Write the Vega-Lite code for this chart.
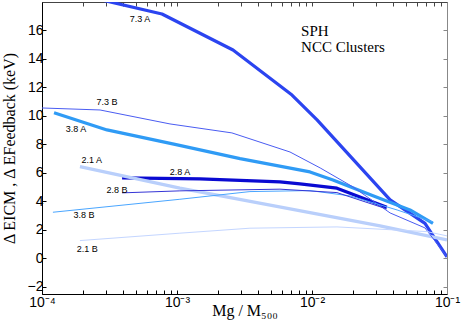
{
  "$schema": "https://vega.github.io/schema/vega-lite/v6.json",
  "width": 405,
  "height": 292,
  "autosize": "none",
  "padding": {"left": 42, "top": 2, "right": 16, "bottom": 34},
  "config": {
    "view": {"stroke": "#888"},
    "axis": {
      "grid": false,
      "labelFont": "Liberation Sans",
      "labelFontSize": 14,
      "labelColor": "#000",
      "titleFont": "Liberation Serif",
      "titleFontSize": 16,
      "titleFontWeight": "normal",
      "titleColor": "#000"
    }
  },
  "datasets": {
    "curves": [
      {"s": "7.3 A", "x": 0.00025, "y": 18.24},
      {"s": "7.3 A", "x": 0.000774, "y": 17.16},
      {"s": "7.3 A", "x": 0.0026, "y": 14.63},
      {"s": "7.3 A", "x": 0.00711, "y": 11.47},
      {"s": "7.3 A", "x": 0.0109, "y": 9.72},
      {"s": "7.3 A", "x": 0.0379, "y": 4.11},
      {"s": "7.3 A", "x": 0.0687, "y": 2.46},
      {"s": "7.3 A", "x": 0.1, "y": 0.1},
      {"s": "7.3 B", "x": 0.0001, "y": 10.56},
      {"s": "7.3 B", "x": 0.000269, "y": 10.42},
      {"s": "7.3 B", "x": 0.000887, "y": 9.44},
      {"s": "7.3 B", "x": 0.00255, "y": 8.81},
      {"s": "7.3 B", "x": 0.00687, "y": 7.47},
      {"s": "7.3 B", "x": 0.0115, "y": 6.35},
      {"s": "7.3 B", "x": 0.0201, "y": 5.02},
      {"s": "7.3 B", "x": 0.0379, "y": 3.19},
      {"s": "7.3 B", "x": 0.0687, "y": 2.14},
      {"s": "7.3 B", "x": 0.1, "y": 0.1},
      {"s": "3.8 A", "x": 0.0001228, "y": 10.23},
      {"s": "3.8 A", "x": 0.000303, "y": 9.02},
      {"s": "3.8 A", "x": 0.000966, "y": 8.0},
      {"s": "3.8 A", "x": 0.00293, "y": 7.0},
      {"s": "3.8 A", "x": 0.00966, "y": 6.07},
      {"s": "3.8 A", "x": 0.0143, "y": 5.51},
      {"s": "3.8 A", "x": 0.0283, "y": 4.39},
      {"s": "3.8 A", "x": 0.0532, "y": 3.4},
      {"s": "3.8 A", "x": 0.0787, "y": 2.45},
      {"s": "3.8 B", "x": 0.0001205, "y": 3.24},
      {"s": "3.8 B", "x": 0.00105, "y": 4.15},
      {"s": "3.8 B", "x": 0.00347, "y": 4.69},
      {"s": "3.8 B", "x": 0.00966, "y": 4.76},
      {"s": "3.8 B", "x": 0.0191, "y": 4.39},
      {"s": "3.8 B", "x": 0.0427, "y": 3.4},
      {"s": "3.8 B", "x": 0.0787, "y": 2.56},
      {"s": "2.8 A", "x": 0.000392, "y": 5.65},
      {"s": "2.8 A", "x": 0.00148, "y": 5.58},
      {"s": "2.8 A", "x": 0.00579, "y": 5.37},
      {"s": "2.8 A", "x": 0.00815, "y": 5.23},
      {"s": "2.8 A", "x": 0.0153, "y": 4.93},
      {"s": "2.8 A", "x": 0.0358, "y": 3.59},
      {"s": "2.8 B", "x": 0.000392, "y": 4.6},
      {"s": "2.8 B", "x": 0.00105, "y": 4.74},
      {"s": "2.8 B", "x": 0.00579, "y": 4.86},
      {"s": "2.8 B", "x": 0.0153, "y": 4.62},
      {"s": "2.8 B", "x": 0.0358, "y": 3.47},
      {"s": "2.1 A", "x": 0.000191, "y": 6.44},
      {"s": "2.1 A", "x": 0.00105, "y": 4.93},
      {"s": "2.1 A", "x": 0.00966, "y": 3.21},
      {"s": "2.1 A", "x": 0.0319, "y": 2.28},
      {"s": "2.1 A", "x": 0.1, "y": 1.3},
      {"s": "2.1 B", "x": 0.000191, "y": 1.25},
      {"s": "2.1 B", "x": 0.00105, "y": 1.77},
      {"s": "2.1 B", "x": 0.00347, "y": 2.12},
      {"s": "2.1 B", "x": 0.0153, "y": 2.21},
      {"s": "2.1 B", "x": 0.0711, "y": 1.88},
      {"s": "2.1 B", "x": 0.1, "y": 1.58}
    ],
    "labels": [
      {"t": "7.3 A", "x": 0.000532, "y": 16.81},
      {"t": "7.3 B", "x": 0.000303, "y": 10.98},
      {"t": "3.8 A", "x": 0.0001785, "y": 9.09},
      {"t": "2.1 A", "x": 0.000234, "y": 6.91},
      {"t": "2.8 A", "x": 0.001052, "y": 6.07},
      {"t": "2.8 B", "x": 0.000359, "y": 4.81},
      {"t": "3.8 B", "x": 0.000205, "y": 3.05},
      {"t": "2.1 B", "x": 0.000216, "y": 0.67}
    ],
    "notes": [
      {"t": "SPH", "x": 0.0083, "y": 15.96},
      {"t": "NCC Clusters", "x": 0.0083, "y": 14.84}
    ]
  },
  "layer": [
    {
      "data": {"name": "curves"},
      "transform": [{"filter": "indexof(datum.s, 'A') >= 0"}],
      "mark": {"type": "line", "clip": true, "strokeJoin": "round", "strokeWidth": 3.2},
      "encoding": {
        "x": {
          "field": "x",
          "type": "quantitative",
          "scale": {"type": "log", "domain": [0.0001, 0.1], "nice": false},
          "axis": {
            "orient": "bottom",
            "values": [0.0001, 0.0002, 0.0003, 0.0004, 0.0005, 0.0006, 0.0007, 0.0008, 0.0009, 0.001, 0.002, 0.003, 0.004, 0.005, 0.006, 0.007, 0.008, 0.009, 0.01, 0.02, 0.03, 0.04, 0.05, 0.06, 0.07, 0.08, 0.09, 0.1],
            "labelExpr": "datum.value == 0.0001 ? '10⁻⁴' : datum.value == 0.001 ? '10⁻³' : datum.value == 0.01 ? '10⁻²' : datum.value == 0.1 ? '10⁻¹' : ''",
            "labelOverlap": false,
            "labelFlush": false,
            "tickSize": -4,
            "tickColor": "#000",
            "domainColor": "#000",
            "labelPadding": 5,
            "title": "Mg / M₅₀₀",
            "titleY": 21,
            "titleBaseline": "alphabetic"
          }
        },
        "y": {
          "field": "y",
          "type": "quantitative",
          "scale": {"domain": [-2.5, 18], "nice": false, "zero": false},
          "axis": {
            "orient": "left",
            "values": [-2, 0, 2, 4, 6, 8, 10, 12, 14, 16],
            "tickSize": -4,
            "tickColor": "#000",
            "domainColor": "#000",
            "labelPadding": 3,
            "title": "Δ EICM  ,  Δ EFeedback  (keV)",
            "titleX": -33,
            "titleY": 146,
            "titleBaseline": "middle"
          }
        },
        "color": {
          "field": "s",
          "type": "nominal",
          "scale": {
            "domain": ["2.1 B", "3.8 B", "2.8 B", "7.3 B", "2.1 A", "3.8 A", "2.8 A", "7.3 A"],
            "range": ["#c4d6ff", "#4aa6ff", "#3535d6", "#4a5cf2", "#b9cffb", "#2f9bf5", "#0a0ad2", "#2b44f0"]
          },
          "legend": null
        }
      }
    },
    {
      "data": {"name": "curves"},
      "transform": [{"filter": "indexof(datum.s, 'B') >= 0"}],
      "mark": {"type": "line", "clip": true, "strokeJoin": "round", "strokeWidth": 1},
      "encoding": {
        "x": {"field": "x", "type": "quantitative", "axis": null},
        "y": {"field": "y", "type": "quantitative", "axis": null},
        "color": {"field": "s", "type": "nominal", "legend": null}
      }
    },
    {
      "data": {"name": "labels"},
      "mark": {"type": "text", "font": "Liberation Sans", "fontSize": 9, "color": "#000"},
      "encoding": {
        "x": {
          "field": "x",
          "type": "quantitative",
          "axis": {
            "orient": "top",
            "values": [0.0001, 0.0002, 0.0003, 0.0004, 0.0005, 0.0006, 0.0007, 0.0008, 0.0009, 0.001, 0.002, 0.003, 0.004, 0.005, 0.006, 0.007, 0.008, 0.009, 0.01, 0.02, 0.03, 0.04, 0.05, 0.06, 0.07, 0.08, 0.09, 0.1],
            "labels": false,
            "tickSize": -4,
            "tickColor": "#444",
            "domainColor": "#444",
            "title": null
          }
        },
        "y": {
          "field": "y",
          "type": "quantitative",
          "axis": {
            "orient": "right",
            "values": [-2, 0, 2, 4, 6, 8, 10, 12, 14, 16],
            "labels": false,
            "tickSize": -4,
            "tickColor": "#888",
            "domainColor": "#888",
            "title": null
          }
        },
        "text": {"field": "t"}
      }
    },
    {
      "data": {"name": "notes"},
      "mark": {"type": "text", "font": "Liberation Serif", "fontSize": 15, "color": "#000", "align": "left"},
      "encoding": {
        "x": {"field": "x", "type": "quantitative", "axis": null},
        "y": {"field": "y", "type": "quantitative", "axis": null},
        "text": {"field": "t"}
      }
    }
  ]
}
